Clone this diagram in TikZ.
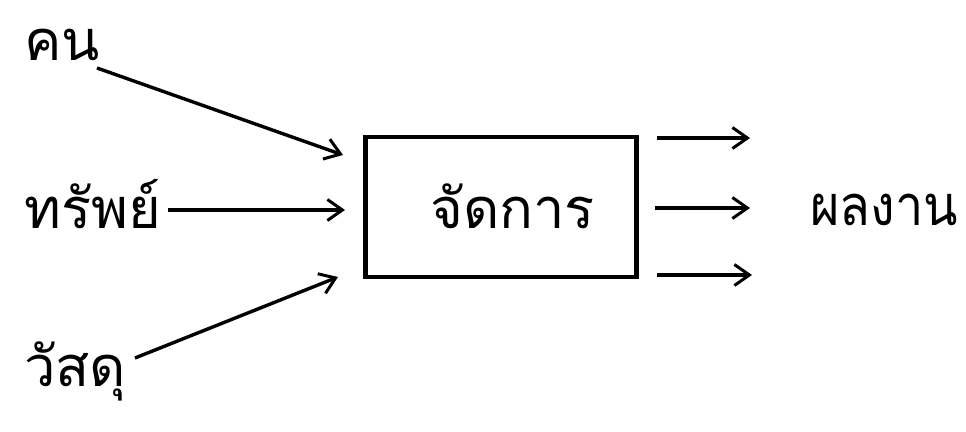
\documentclass[tikz,border=0pt]{standalone}
\usepackage{fontspec}
\newfontfamily\thaifont[Script=Thai]{Loma}
\usetikzlibrary{arrows.meta}
\begin{document}
\begin{tikzpicture}[x=1pt,y=-1pt,
  lbl/.style={font=\thaifont\fontsize{56}{60}\selectfont, inner sep=0pt, anchor=base west},
  flow/.style={line width=3.4pt, -{Straight Barb[length=15pt,width=21pt,line width=3pt]}},
  procbox/.style={draw, line width=4.2pt, minimum width=271pt, minimum height=140pt, inner sep=0pt}]
  \useasboundingbox (0,0) rectangle (966,431);
  % inputs
  \node[lbl] (people) at (24,60) {คน};
  \node[lbl] (money) at (24,228) {ทรัพย์};
  \node[lbl] (material) at (24,386) {วัสดุ};
  % process box
  \node[procbox] (mgmt) at (501,207) {};
  \node[lbl] (mgmtlbl) at (430,228) {จัดการ};
  % output
  \node[lbl, xscale=0.9] (result) at (810,225) {ผลงาน};
  % inbound arrows
  \coordinate (pA) at (97,68);
  \coordinate (pB) at (343,155);
  \coordinate (mA) at (168,210);
  \coordinate (mB) at (345,210);
  \coordinate (sA) at (135,358);
  \coordinate (sB) at (338,277);
  \draw[flow] (pA) -- (pB);
  \draw[flow] (mA) -- (mB);
  \draw[flow] (sA) -- (sB);
  % outbound arrows
  \coordinate (o1a) at (657,138); \coordinate (o1b) at (750,138);
  \coordinate (o2a) at (655,208); \coordinate (o2b) at (750,208);
  \coordinate (o3a) at (657,275); \coordinate (o3b) at (752,275);
  \draw[flow] (o1a) -- (o1b);
  \draw[flow] (o2a) -- (o2b);
  \draw[flow] (o3a) -- (o3b);
\end{tikzpicture}
\end{document}
